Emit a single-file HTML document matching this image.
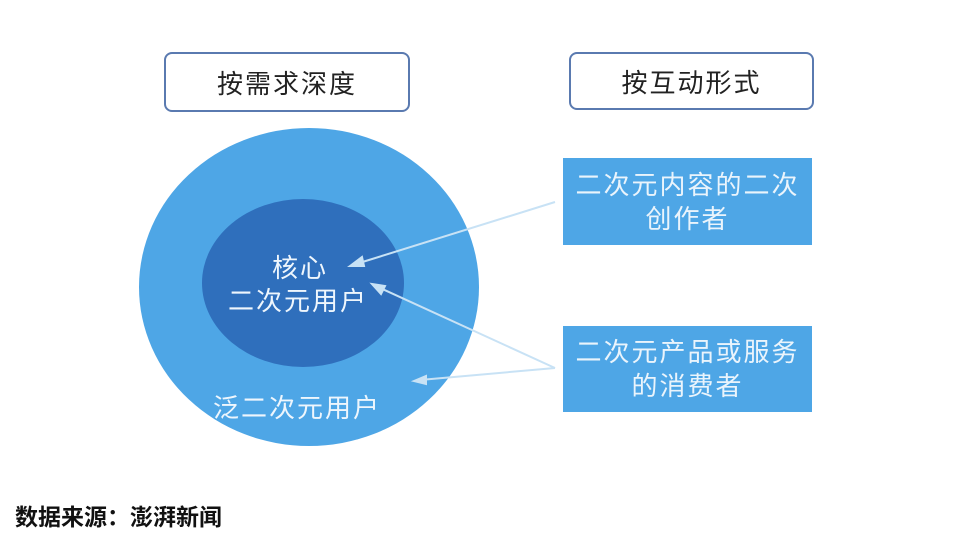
<!DOCTYPE html>
<html><head><meta charset="utf-8"><style>
html,body{margin:0;padding:0;background:#fff;}
body{width:961px;height:539px;position:relative;overflow:hidden;font-family:"Liberation Sans","Noto Sans CJK SC",sans-serif;}
.hb{position:absolute;border:2px solid #5a7ab0;border-radius:8px;background:#fff;display:flex;align-items:center;justify-content:center;font-size:26px;letter-spacing:2px;color:#222;box-sizing:border-box;}
.bb{position:absolute;background:#4ea6e6;color:#eaf4fc;font-size:26px;letter-spacing:2px;line-height:34px;text-align:center;display:flex;align-items:center;justify-content:center;}
.t{position:absolute;color:#eef6fd;font-size:26px;letter-spacing:2px;white-space:nowrap;}
</style></head><body>
<div class="hb" style="left:164px;top:52px;width:246px;height:60px;">按需求深度</div>
<div class="hb" style="left:569px;top:52px;width:245px;height:58px;">按互动形式</div>
<svg style="position:absolute;left:0;top:0" width="961" height="539">
<ellipse cx="309" cy="287" rx="170" ry="159" fill="#4ea6e6"/>
<ellipse cx="303" cy="283" rx="101" ry="84" fill="#2f6fbc"/>
<g stroke="#c8e2f5" stroke-width="2" fill="#c8e2f5">
<line x1="555" y1="202" x2="356" y2="264"/>
<polygon points="350,266 362,257 364,266"/>
<line x1="555" y1="368" x2="378" y2="287"/>
<polygon points="372,284 385,286 381,294"/>
<line x1="555" y1="368" x2="420" y2="380"/>
<polygon points="414,381 426,376 426,384"/>
</g>
</svg>
<div class="bb" style="left:563px;top:158px;width:249px;height:87px;">二次元内容的二次<br>创作者</div>
<div class="bb" style="left:563px;top:326px;width:249px;height:86px;">二次元产品或服务<br>的消费者</div>
<div class="t" style="left:272px;top:248px;">核心</div>
<div class="t" style="left:228px;top:281px;">二次元用户</div>
<div class="t" style="left:213px;top:388px;">泛二次元用户</div>
<div style="position:absolute;left:15px;top:498px;font-size:23px;font-weight:bold;color:#111;">数据来源：澎湃新闻</div>
</body></html>
